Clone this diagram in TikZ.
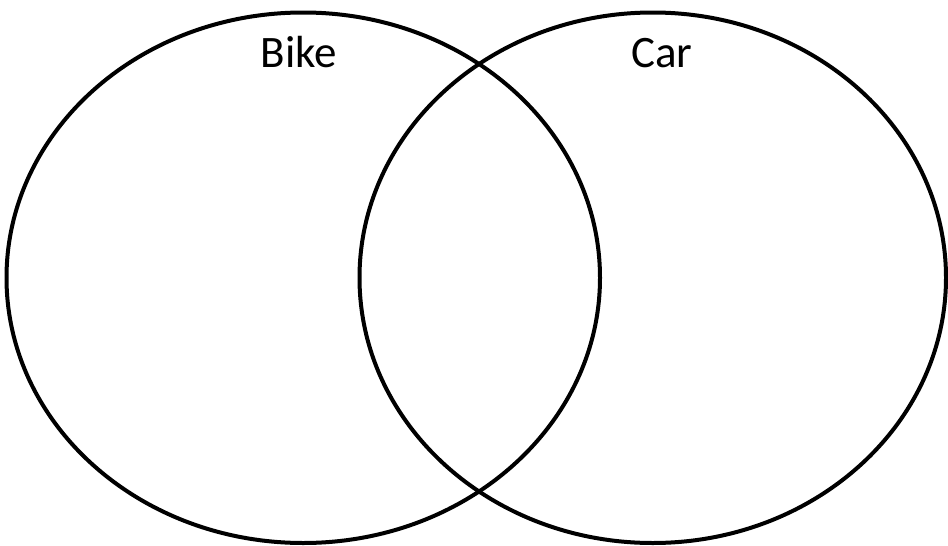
\documentclass[tikz,border=0pt]{standalone}
\usepackage{fontspec}
\setmainfont{Carlito}
\begin{document}
\begin{tikzpicture}[x=1pt,y=-1pt,
  setring/.style={draw=black, line width=4pt},
  setlabel/.style={font=\fontsize{45}{54}\selectfont, anchor=base, inner sep=0pt}]
\useasboundingbox[fill=white] (0,0) rectangle (948,546);
\draw[setring] (303.25,277.75) ellipse [x radius=296.75, y radius=265.25];
\draw[setring] (652.75,277.75) ellipse [x radius=293.25, y radius=265.25];
\node[setlabel] (bike) at (298.7,67) {Bike};
\node[setlabel] (car) at (662,67) {Car};
\end{tikzpicture}
\end{document}
